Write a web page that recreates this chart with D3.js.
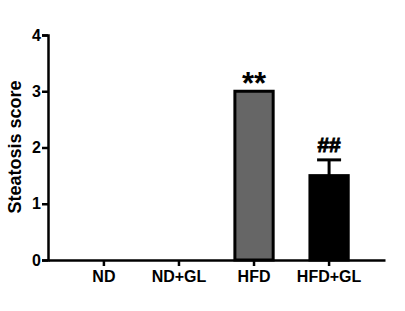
<!DOCTYPE html>
<html lang="en">
<head>
<meta charset="utf-8">
<script src="https://d3js.org/d3.v7.min.js"></script>
<style>
  body { margin: 0; background: #fff; }
  text { font-family: "Liberation Sans", Arial, sans-serif; font-weight: bold; fill: #000; }
</style>
</head>
<body>
<svg width="405" height="311"></svg>
<script>
// data
var groups = ["ND", "ND+GL", "HFD", "HFD+GL"];
var scores = [0, 0, 3, 1.5];
var errors = [0, 0, 0, 0.28];
var fills = ["#ffffff", "#ffffff", "#666666", "#000000"];
var marks = ["", "", "**", "##"];
var yTicks = [0, 1, 2, 3, 4];

var svg = d3.select("svg");

var x = d3.scaleBand()
    .domain(groups)
    .range([48, 385])
    .padding(0.49);

var y = d3.scaleLinear()
    .domain([0, 4])
    .range([260, 35]);

// bars
var bars = svg.append("g");
groups.forEach(function(g, i) {
  if (scores[i] <= 0) return;
  bars.append("rect")
    .attr("x", x(g))
    .attr("y", y(scores[i]))
    .attr("width", x.bandwidth())
    .attr("height", y(0) - y(scores[i]))
    .attr("fill", fills[i])
    .attr("stroke", "#000")
    .attr("stroke-width", 3);
  var cx = x(g) + x.bandwidth() / 2;
  if (errors[i] > 0) {
    bars.append("line")
      .attr("x1", cx).attr("x2", cx)
      .attr("y1", y(scores[i])).attr("y2", y(scores[i] + errors[i]))
      .attr("stroke", "#000").attr("stroke-width", 3);
    bars.append("line")
      .attr("x1", cx - 12).attr("x2", cx + 12)
      .attr("y1", y(scores[i] + errors[i])).attr("y2", y(scores[i] + errors[i]))
      .attr("stroke", "#000").attr("stroke-width", 3);
  }
  // asterisks sit high in the glyph box, so they need a lower baseline
  bars.append("text")
    .attr("x", cx)
    .attr("y", marks[i] == "**" ? y(scores[i] + errors[i]) + 3 : y(scores[i] + errors[i]) - 8)
    .attr("text-anchor", "middle")
    .attr("stroke", marks[i] == "##" ? "#000" : "none")
    .attr("stroke-width", 0.9)
    .style("font-size", marks[i] == "**" ? "31px" : "21px")
    .text(marks[i]);
});

// y axis
var yAxis = svg.append("g")
  .attr("transform", "translate(48,0)")
  .call(d3.axisLeft(y).tickValues(yTicks).tickSize(6).tickPadding(1).tickFormat(d3.format("d")));
yAxis.select(".domain").attr("stroke-width", 2.5);
yAxis.selectAll(".tick line").attr("stroke-width", 2.5);
yAxis.selectAll("text").style("font-size", "16px");

// x axis
var xAxis = svg.append("g")
  .attr("transform", "translate(0,260)")
  .call(d3.axisBottom(x).tickSize(6).tickSizeOuter(0).tickPadding(5));
xAxis.select(".domain").attr("stroke-width", 2.5);
xAxis.selectAll(".tick line").attr("stroke-width", 2.5);
xAxis.selectAll("text").style("font-size", "16px");

svg.append("text")
  .attr("transform", "translate(21,147) rotate(-90)")
  .attr("text-anchor", "middle")
  .style("font-size", "18px")
  .text("Steatosis score");
</script>
</body>
</html>
